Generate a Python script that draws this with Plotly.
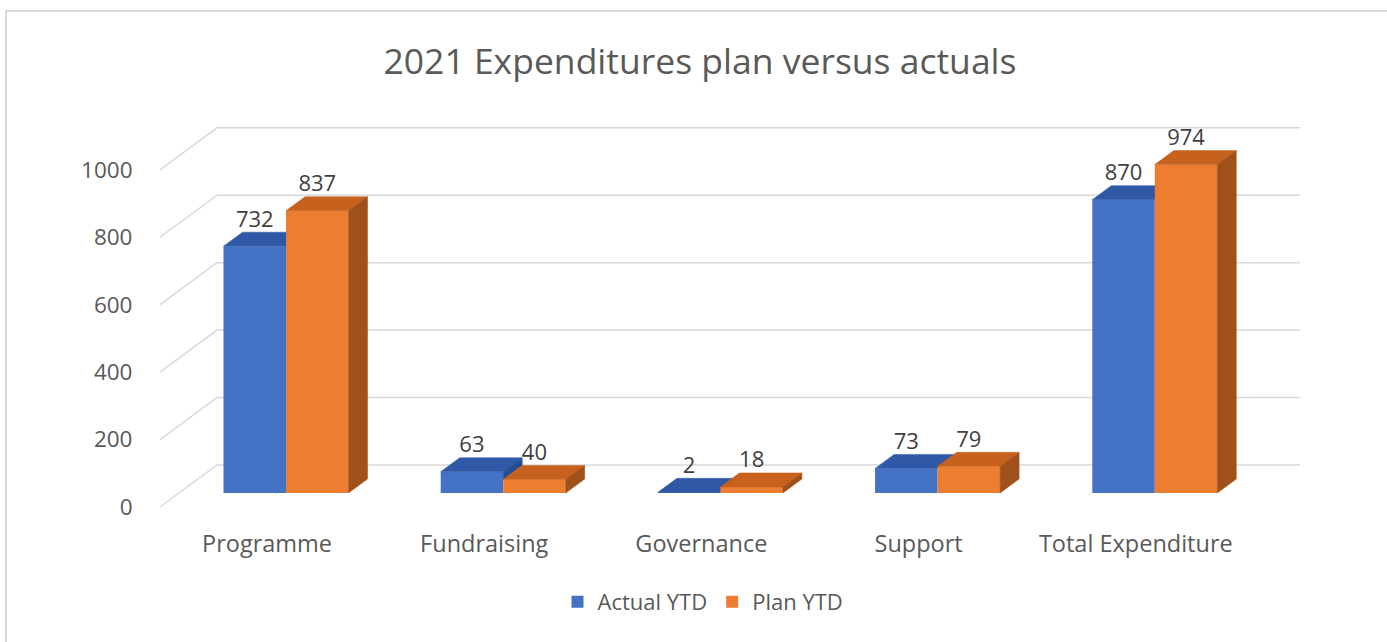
import plotly.graph_objects as go

# ---------------- data ----------------
categories = ["Programme", "Fundraising", "Governance", "Support", "Total Expenditure"]
actual_ytd = [732, 63, 2, 73, 870]
plan_ytd = [837, 40, 18, 79, 974]
series_names = ["Actual YTD", "Plan YTD"]
y_tick_values = [0, 200, 400, 600, 800, 1000]
title_text = "2021 Expenditures plan versus actuals"

# ---------------- geometry / style ----------------
W, H = 1387, 642
L, R, T, B = 150, 1320, 110, 520          # plot-area pixel edges
X0PX, SX = 267.0, 217.2                   # category 0 pixel, px per category
Y0PX, SY = 507.0, 0.3372                  # value 0 pixel (front plane), px per unit
DX = 57.0 / SX                            # oblique depth offset (x, category units)
DY = 42.0 / SY                            # oblique depth offset (y, value units)
BAR_W = 62.5 / SX
GRID_END = (1300 - X0PX) / SX
x_range = [(L - X0PX) / SX, (R - X0PX) / SX]
y_range = [(Y0PX - B) / SY, (Y0PX - T) / SY]
GRID_X0 = (160 - X0PX) / SX

front_cols = ["#4472C4", "#ED7D31"]
top_cols = ["#2F58A6", "#C6611E"]
side_cols = ["#284C90", "#A0501B"]
FONT = "Open Sans"
axes_ref = [("x", "y"), ("x2", "y2")]

fig = go.Figure()


def proj(x, v, t):
    return x + t * DX, v + t * DY


def poly(pts, color, xa, ya):
    return go.Scatter(x=[p[0] for p in pts] + [pts[0][0]],
                      y=[p[1] for p in pts] + [pts[0][1]],
                      fill="toself", fillcolor=color, mode="lines",
                      line=dict(width=0.5, color=color), xaxis=xa, yaxis=ya,
                      hoverinfo="skip", showlegend=False)


# back wall gridlines and side-wall diagonals (drawn below all traces)
for v in y_tick_values:
    xa, ya = proj(GRID_X0, v, 0)
    xb, yb = proj(GRID_X0, v, 1)
    fig.add_shape(type="path", xref="x", yref="y", layer="below",
                  path=f"M {xa},{ya} L {xb},{yb} L {GRID_END},{yb}",
                  line=dict(color="#D9D9D9", width=1.5))

series_vals = [actual_ytd, plan_ytd]
for s, vals in enumerate(series_vals):
    xa_, ya_ = axes_ref[s]
    # front faces (real bars)
    fig.add_trace(go.Bar(x=[i + DX / 3 for i in range(len(vals))], y=vals,
                         base=[DY / 3] * len(vals), width=BAR_W,
                         offset=-BAR_W if s == 0 else 0,
                         marker=dict(color=front_cols[s], line=dict(width=0)),
                         name=series_names[s], showlegend=True,
                         xaxis=xa_, yaxis=ya_))
    for i, v in enumerate(vals):
        xl0 = i - BAR_W if s == 0 else i
        xr0 = xl0 + BAR_W
        # top face
        fig.add_trace(poly([proj(xl0, v, 1 / 3), proj(xr0, v, 1 / 3),
                            proj(xr0, v, 2 / 3), proj(xl0, v, 2 / 3)], top_cols[s], xa_, ya_))
        # right side face (for the left series only the part above the neighbour shows)
        lo = 0 if s == 1 else min(v, series_vals[1][i])
        if v > lo:
            fig.add_trace(poly([proj(xr0, lo, 1 / 3), proj(xr0, v, 1 / 3),
                                proj(xr0, v, 2 / 3), proj(xr0, lo, 2 / 3)], side_cols[s], xa_, ya_))

# data labels on top layer
for s, vals in enumerate(series_vals):
    lx = [i + DX / 3 + (-BAR_W / 2 if s == 0 else BAR_W / 2) for i in range(len(vals))]
    ly = [v + DY * 2 / 3 for v in vals]
    fig.add_trace(go.Scatter(x=lx, y=ly, mode="text", text=[str(v) for v in vals],
                             textposition="top center", cliponaxis=False,
                             textfont=dict(family=FONT, size=22, color="#404040"),
                             xaxis="x2", yaxis="y2",
                             hoverinfo="skip", showlegend=False))

# outer frame
fx = lambda px: (px - L) / (R - L)
fy = lambda py: (B - py) / (B - T)
fig.add_shape(type="rect", xref="paper", yref="paper",
              x0=fx(6), x1=fx(W + 10), y0=fy(H + 10), y1=fy(11),
              line=dict(color="#D9D9D9", width=2), fillcolor="rgba(0,0,0,0)", layer="below")

fig.update_layout(
    width=W, height=H,
    margin=dict(l=L, r=W - R, t=T, b=H - B),
    paper_bgcolor="white", plot_bgcolor="white",
    barmode="overlay",
    title=dict(text=title_text, x=700 / W, xanchor="center", y=1 - 62 / H, yanchor="middle",
               font=dict(family=FONT, size=35.5, color="#595959")),
    legend=dict(orientation="h", xref="container", yref="container",
                x=703 / W, xanchor="center", y=1 - 602 / H, yanchor="middle",
                font=dict(family=FONT, size=22, color="#595959"), traceorder="normal"),
    xaxis=dict(range=x_range, tickmode="array", tickvals=list(range(len(categories))),
               ticktext=categories, showgrid=False, zeroline=False, showline=False,
               ticks="outside", ticklen=3, tickcolor="rgba(0,0,0,0)",
               tickfont=dict(family=FONT, size=23.5, color="#595959")),
    yaxis=dict(range=y_range, tickmode="array", tickvals=y_tick_values,
               showgrid=False, zeroline=False, showline=False,
               ticks="outside", ticklen=12, tickcolor="rgba(0,0,0,0)",
               tickfont=dict(family=FONT, size=22.5, color="#595959")),
    xaxis2=dict(range=x_range, overlaying="x", visible=False, showgrid=False, zeroline=False),
    yaxis2=dict(range=y_range, overlaying="y", visible=False, showgrid=False, zeroline=False),
    showlegend=True,
)

fig.write_html("out.html")
